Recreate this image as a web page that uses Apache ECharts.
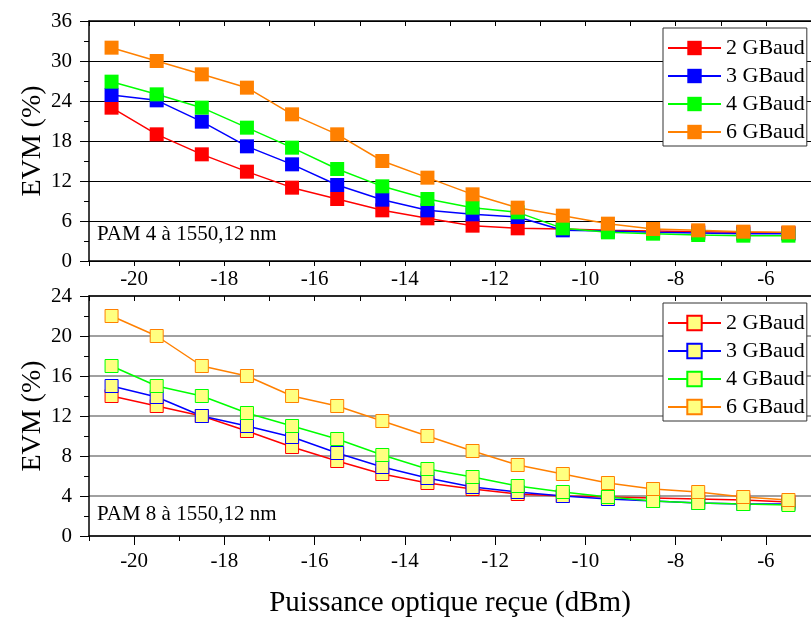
<!DOCTYPE html>
<html>
<head>
<meta charset="utf-8">
<script src="https://cdn.jsdelivr.net/npm/echarts@6/dist/echarts.min.js"></script>
<style>
html,body{margin:0;padding:0;background:#fff;}
#chart{width:811px;height:619px;}
</style>
</head>
<body>
<div id="chart"></div>
<script>
// ---- data ----
const xValues = [-20.5, -19.5, -18.5, -17.5, -16.5, -15.5, -14.5, -13.5, -12.5, -11.5, -10.5, -9.5, -8.5, -7.5, -6.5, -5.5];
const xLabelValues = [-20, -18, -16, -14, -12, -10, -8, -6];
const seriesNames = ['2 GBaud', '3 GBaud', '4 GBaud', '6 GBaud'];

// PAM 4 (top panel), EVM %
const pam4_2G = [23, 19, 16, 13.4, 11, 9.3, 7.6, 6.4, 5.3, 4.9, 4.8, 4.6, 4.5, 4.4, 4.3, 4.2];
const pam4_3G = [24.9, 24.1, 20.9, 17.2, 14.5, 11.4, 9.2, 7.6, 7.0, 6.6, 4.6, 4.5, 4.3, 4.2, 4.1, 4.1];
const pam4_4G = [26.9, 25, 23, 20, 17, 13.8, 11.2, 9.3, 8.0, 7.3, 4.9, 4.3, 4.1, 3.9, 3.8, 3.8];
const pam4_6G = [32, 30, 28, 26, 22, 19, 15, 12.5, 10, 8, 6.8, 5.6, 4.8, 4.6, 4.4, 4.3];

// PAM 8 (bottom panel), EVM %
const pam8_2G = [14, 13, 12, 10.5, 8.9, 7.5, 6.2, 5.3, 4.7, 4.2, 4.0, 3.9, 3.8, 3.7, 3.6, 3.4];
const pam8_3G = [15, 13.9, 12, 11, 9.9, 8.3, 6.9, 5.8, 4.9, 4.4, 4.0, 3.7, 3.5, 3.3, 3.2, 3.2];
const pam8_4G = [17, 15, 14, 12.3, 11, 9.7, 8.1, 6.7, 5.9, 5.0, 4.4, 3.9, 3.5, 3.3, 3.2, 3.1];
const pam8_6G = [22, 20, 17, 16, 14, 13, 11.5, 10, 8.5, 7.1, 6.2, 5.3, 4.7, 4.4, 3.9, 3.6];

const pam4Data = [pam4_2G, pam4_3G, pam4_4G, pam4_6G];
const pam8Data = [pam8_2G, pam8_3G, pam8_4G, pam8_6G];
const colors = ['#ff0000', '#0000ff', '#00ff00', '#ff8000'];

const FONT = 'Liberation Serif';
const pairs = vals => xValues.map((x, i) => [x, vals[i]]);

const series = [];
pam4Data.forEach((vals, k) => {
  series.push({
    type: 'line', name: seriesNames[k], xAxisIndex: 0, yAxisIndex: 0,
    data: pairs(vals), symbol: 'rect', symbolSize: 14,
    lineStyle: { color: colors[k], width: 1.5 },
    itemStyle: { color: colors[k] },
    emphasis: { disabled: true }, animation: false
  });
});
pam8Data.forEach((vals, k) => {
  series.push({
    type: 'line', name: 'PAM8 ' + seriesNames[k], xAxisIndex: 2, yAxisIndex: 1,
    data: pairs(vals), symbol: 'rect', symbolSize: 13,
    lineStyle: { color: colors[k], width: 1.5 },
    itemStyle: { color: '#ffff80', borderColor: colors[k], borderWidth: 1 },
    emphasis: { disabled: true }, animation: false
  });
});

const baseX = {
  type: 'value', min: -21, max: -5, interval: 1,
  splitLine: { show: false },
  axisLine: { show: true, onZero: false, lineStyle: { color: '#000', width: 1.5 } }
};

const tickLabelStyle = { color: '#000', fontFamily: FONT, fontSize: 21 };

const xAxes = [
  Object.assign({}, baseX, {
    gridIndex: 0, position: 'bottom',
    axisTick: { show: true, inside: false, length: 5, lineStyle: { color: '#000', width: 1 } },
    axisLabel: Object.assign({ customValues: xLabelValues, margin: 8 }, tickLabelStyle)
  }),
  Object.assign({}, baseX, {
    gridIndex: 0, position: 'top',
    axisTick: { show: true, inside: true, length: 5, lineStyle: { color: '#000', width: 1 } },
    axisLabel: { show: false }
  }),
  Object.assign({}, baseX, {
    gridIndex: 1, position: 'bottom',
    axisTick: { show: true, inside: false, length: 5, lineStyle: { color: '#000', width: 1 } },
    axisLabel: Object.assign({ customValues: xLabelValues, margin: 15 }, tickLabelStyle),
    name: 'Puissance optique reçue (dBm)', nameLocation: 'middle', nameGap: 53,
    nameMoveOverlap: false,
    nameTextStyle: { color: '#000', fontFamily: FONT, fontSize: 29 }
  }),
  Object.assign({}, baseX, {
    gridIndex: 1, position: 'bottom',
    axisLine: { show: false },
    axisTick: { show: true, inside: false, length: 9, customValues: xLabelValues, lineStyle: { color: '#000', width: 1 } },
    axisLabel: { show: false }
  }),
  Object.assign({}, baseX, {
    gridIndex: 1, position: 'top',
    axisTick: { show: true, inside: true, length: 5, lineStyle: { color: '#000', width: 1 } },
    axisLabel: { show: false }
  })
];

const yAxes = [
  {
    type: 'value', gridIndex: 0, min: 0, max: 36, interval: 6,
    axisLine: { show: true, lineStyle: { color: '#000', width: 1.5 } },
    axisTick: { show: true, inside: false, length: 9, lineStyle: { color: '#000', width: 1 } },
    minorTick: { show: true, splitNumber: 2, length: 5, lineStyle: { color: '#000', width: 1 } },
    splitLine: { show: true, lineStyle: { color: '#000', width: 1 } },
    axisLabel: Object.assign({ margin: 17 }, tickLabelStyle),
    name: 'EVM (%)', nameLocation: 'middle', nameGap: 42, nameMoveOverlap: false,
    nameTextStyle: { color: '#000', fontFamily: FONT, fontSize: 28 }
  },
  {
    type: 'value', gridIndex: 1, min: 0, max: 24, interval: 4,
    axisLine: { show: true, lineStyle: { color: '#000', width: 1.5 } },
    axisTick: { show: true, inside: false, length: 9, lineStyle: { color: '#000', width: 1 } },
    minorTick: { show: true, splitNumber: 2, length: 5, lineStyle: { color: '#000', width: 1 } },
    splitLine: { show: true, lineStyle: { color: '#808080', width: 1.5 } },
    axisLabel: Object.assign({ margin: 17 }, tickLabelStyle),
    name: 'EVM (%)', nameLocation: 'middle', nameGap: 42, nameMoveOverlap: false,
    nameTextStyle: { color: '#000', fontFamily: FONT, fontSize: 28 }
  }
];

const legendBase = {
  orient: 'vertical', left: 663,
  itemWidth: 53, itemHeight: 18, itemGap: 6,
  padding: [9, 2, 3, 4],
  borderColor: '#333', borderWidth: 1, backgroundColor: '#fff',
  textStyle: { color: '#000', fontFamily: FONT, fontSize: 22 },
  selectedMode: false
};

const option = {
  animation: false,
  backgroundColor: '#fff',
  grid: [
    { left: 89, top: 21, width: 725, height: 240 },
    { left: 89, top: 296, width: 725, height: 240 }
  ],
  xAxis: xAxes,
  yAxis: yAxes,
  legend: [
    Object.assign({}, legendBase, { top: 28, data: seriesNames }),
    Object.assign({}, legendBase, {
      top: 303, data: seriesNames.map(n => 'PAM8 ' + n),
      formatter: name => name.replace('PAM8 ', '')
    })
  ],
  graphic: [
    { type: 'text', x: 97, y: 234, z: 100,
      style: { text: 'PAM 4 à 1550,12 nm', font: '21px "Liberation Serif"', fill: '#000', verticalAlign: 'middle' } },
    { type: 'text', x: 97, y: 514, z: 100,
      style: { text: 'PAM 8 à 1550,12 nm', font: '21px "Liberation Serif"', fill: '#000', verticalAlign: 'middle' } }
  ],
  series: series
};

const chart = echarts.init(document.getElementById('chart'), null, { renderer: 'canvas' });
chart.setOption(option);
</script>
</body>
</html>
